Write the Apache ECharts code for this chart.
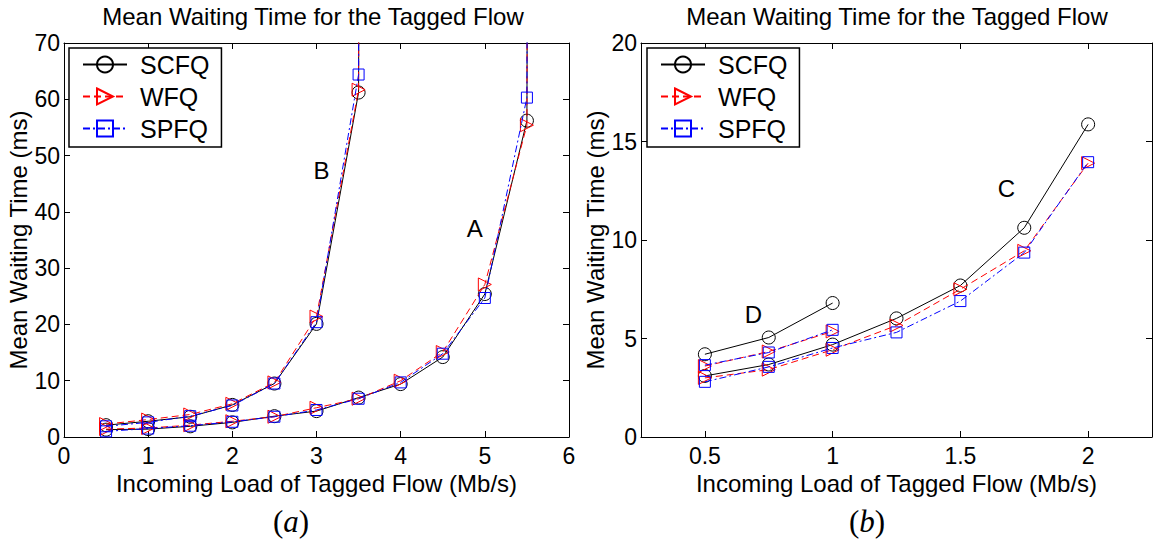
<!DOCTYPE html>
<html>
<head>
<meta charset="utf-8">
<style>
  html, body { margin: 0; padding: 0; background: #fff; }
  #chart { width: 1156px; height: 544px; }
</style>
<script src="https://cdn.jsdelivr.net/npm/echarts@6/dist/echarts.min.js"></script>
</head>
<body>
<div id="chart"></div>
<script>
// ---------- Data ----------
const seriesNames = ['SCFQ', 'WFQ', 'SPFQ'];
const chartTitle = 'Mean Waiting Time for the Tagged Flow';
const xAxisName = 'Incoming Load of Tagged Flow (Mb/s)';
const yAxisName = 'Mean Waiting Time (ms)';

// Panel (a): curve A (x 0.5..5.5, explodes after 5.5), curve B (x 0.5..3.5, explodes after 3.5)
const xA = [0.5, 1, 1.5, 2, 2.5, 3, 3.5, 4, 4.5, 5, 5.5, 6];
const aSCFQ = [1.3, 1.4, 1.9, 2.6, 3.7, 4.6, 7.0, 9.4, 14.2, 25.4, 56.2, 3000];
const aWFQ  = [1.4, 1.6, 2.1, 2.8, 3.6, 5.2, 6.8, 10.0, 15.1, 27.1, 55.4, 3000];
const aSPFQ = [1.0, 1.5, 2.0, 2.7, 3.6, 4.8, 6.8, 9.7, 14.8, 24.7, 60.3, 3000];

const xB = [0.5, 1, 1.5, 2, 2.5, 3, 3.5, 4];
const bSCFQ = [2.1, 2.8, 3.6, 5.7, 9.5, 20.1, 61.2, 3000];
const bWFQ  = [2.3, 3.1, 4.0, 5.9, 9.7, 21.4, 61.7, 3000];
const bSPFQ = [1.9, 2.6, 3.7, 5.6, 9.5, 20.4, 64.4, 3000];

// Panel (b): curve C (x 0.5..2), curve D (x 0.5..1)
const xC = [0.5, 0.75, 1, 1.25, 1.5, 1.75, 2];
const cSCFQ = [3.1, 3.68, 4.69, 6.02, 7.69, 10.62, 15.87];
const cWFQ  = [3.0, 3.42, 4.43, 5.66, 7.50, 9.45, 13.90];
const cSPFQ = [2.8, 3.56, 4.52, 5.31, 6.90, 9.36, 13.95];

const xD = [0.5, 0.75, 1];
const dSCFQ = [4.2, 5.05, 6.8];
const dWFQ  = [3.6, 4.34, 5.36];
const dSPFQ = [3.65, 4.29, 5.44];

// Axis ticks
const xTicksA = [0, 1, 2, 3, 4, 5, 6];
const yTicksA = [0, 10, 20, 30, 40, 50, 60, 70];
const xTicksB = [0.5, 1, 1.5, 2];
const yTicksB = [0, 5, 10, 15, 20];

// Curve annotations [label, x, y]
const annotA = [['A', 4.88, 37.1], ['B', 3.06, 47.4]];
const annotB = [['C', 1.68, 12.6], ['D', 0.69, 6.24]];

// ---------- Styles ----------
const FONT = '"Liberation Sans", Arial, Helvetica, sans-serif';
const SERIF = '"Liberation Serif", "DejaVu Serif", serif';
const triPath = 'path://M0,0 L10,5 L0,10 Z';
const styles = {
  SCFQ: { color: '#000000', type: 'solid', symbol: 'circle', size: 13 },
  WFQ:  { color: '#ff0000', type: [7, 4], symbol: triPath, size: 13 },
  SPFQ: { color: '#0000ff', type: [7, 3, 2, 3], symbol: 'rect', size: 11 }
};

function zip(xs, ys) { return xs.map((x, i) => [x, ys[i]]); }

function mkSeries(name, xs, ys, gi) {
  const s = styles[name];
  return {
    type: 'line', name: name,
    xAxisIndex: gi * 2, yAxisIndex: gi * 2,
    data: zip(xs, ys),
    symbol: s.symbol, symbolSize: s.size,
    showAllSymbol: true, clip: true,
    lineStyle: { color: s.color, width: 1, type: s.type },
    itemStyle: { color: 'rgba(255,255,255,0)', borderColor: s.color, borderWidth: 1 },
    emphasis: { disabled: true },
    animation: false,
    z: name === 'SCFQ' ? 3 : (name === 'WFQ' ? 4 : 5)
  };
}

const grids = [
  { left: 64, top: 43, width: 505, height: 394 },
  { left: 641, top: 43, width: 511, height: 394 }
];

function mainX(gi, min, max, ticks, interval) {
  const ax = {
    type: 'value', gridIndex: gi, min: min, max: max, position: 'bottom',
    name: xAxisName, nameLocation: 'middle', nameGap: 25,
    nameTextStyle: { fontFamily: FONT, fontSize: 24, color: '#000' },
    axisLine: { show: true, onZero: false, lineStyle: { color: '#000', width: 1 } },
    axisTick: { show: true, inside: true, length: 6, lineStyle: { color: '#000' } },
    axisLabel: { show: true, fontFamily: FONT, fontSize: 23, color: '#000', margin: 7 },
    splitLine: { show: false }
  };
  if (interval) ax.interval = interval;
  else {
    ax.axisLabel.customValues = ticks;
    ax.axisTick.customValues = ticks;
  }
  return ax;
}
function topX(gi, min, max, ticks, interval) {
  const ax = {
    type: 'value', gridIndex: gi, min: min, max: max, position: 'top',
    axisLine: { show: true, onZero: false, lineStyle: { color: '#000', width: 1 } },
    axisTick: { show: true, inside: true, length: 6, lineStyle: { color: '#000' } },
    axisLabel: { show: false },
    splitLine: { show: false }
  };
  if (interval) ax.interval = interval;
  else { ax.axisTick.customValues = ticks; ax.axisLabel.customValues = ticks; }
  return ax;
}
function mainY(gi, min, max, interval) {
  return {
    type: 'value', gridIndex: gi, min: min, max: max, interval: interval, position: 'left',
    name: yAxisName, nameLocation: 'middle', nameGap: 34,
    nameTextStyle: { fontFamily: FONT, fontSize: 24, color: '#000' },
    axisLine: { show: true, onZero: false, lineStyle: { color: '#000', width: 1 } },
    axisTick: { show: true, inside: true, length: 6, lineStyle: { color: '#000' } },
    axisLabel: { show: true, fontFamily: FONT, fontSize: 23, color: '#000', margin: 4 },
    splitLine: { show: false }
  };
}
function rightY(gi, min, max, interval) {
  return {
    type: 'value', gridIndex: gi, min: min, max: max, interval: interval, position: 'right',
    axisLine: { show: true, onZero: false, lineStyle: { color: '#000', width: 1 } },
    axisTick: { show: true, inside: true, length: 6, lineStyle: { color: '#000' } },
    axisLabel: { show: false },
    splitLine: { show: false }
  };
}

const series = [
  mkSeries('SCFQ', xA, aSCFQ, 0), mkSeries('WFQ', xA, aWFQ, 0), mkSeries('SPFQ', xA, aSPFQ, 0),
  mkSeries('SCFQ', xB, bSCFQ, 0), mkSeries('WFQ', xB, bWFQ, 0), mkSeries('SPFQ', xB, bSPFQ, 0),
  mkSeries('SCFQ', xC, cSCFQ, 1), mkSeries('WFQ', xC, cWFQ, 1), mkSeries('SPFQ', xC, cSPFQ, 1),
  mkSeries('SCFQ', xD, dSCFQ, 1), mkSeries('WFQ', xD, dWFQ, 1), mkSeries('SPFQ', xD, dSPFQ, 1)
];

function mkLegend(left) {
  return {
    orient: 'vertical', left: left, top: 48,
    data: seriesNames,
    backgroundColor: '#fff',
    borderColor: '#000', borderWidth: 1.5, borderRadius: 0,
    padding: [4, 12, 6, 13],
    itemWidth: 44, itemHeight: 20, itemGap: 7,
    textStyle: { fontFamily: FONT, fontSize: 25, color: '#000', lineHeight: 22, padding: [0, 0, 0, 8] },
    selectedMode: false
  };
}

const option = {
  animation: false,
  backgroundColor: '#fff',
  grid: grids,
  xAxis: [
    mainX(0, 0, 6, xTicksA, 1), topX(0, 0, 6, xTicksA, 1),
    mainX(1, 0.25, 2.25, xTicksB, null), topX(1, 0.25, 2.25, xTicksB, null)
  ],
  yAxis: [
    mainY(0, 0, 70, 10), rightY(0, 0, 70, 10),
    mainY(1, 0, 20, 5), rightY(1, 0, 20, 5)
  ],
  legend: [mkLegend(69), mkLegend(647)],
  series: series
};

const chart = echarts.init(document.getElementById('chart'), null, { renderer: 'svg' });
chart.setOption(option);

// Text annotations placed via data coordinates
function annot(list, gi) {
  return list.map(([t, x, y]) => {
    const p = chart.convertToPixel({ gridIndex: gi }, [x, y]);
    return { type: 'text', x: p[0], y: p[1], style: { text: t, fontFamily: FONT, fontSize: 24, fill: '#000', align: 'center', verticalAlign: 'middle' } };
  });
}
function caption(x, letter) {
  return { type: 'text', x: x, y: 521, style: { text: '{p|(}{i|' + letter + '}{p|)}',
    rich: { p: { fontFamily: SERIF, fontSize: 31, fill: '#000' }, i: { fontFamily: SERIF, fontSize: 31, fontStyle: 'italic', fill: '#000' } },
    align: 'center', verticalAlign: 'middle' } };
}
const graphics = [
  { type: 'text', x: 313, y: 16, style: { text: chartTitle, fontFamily: FONT, fontSize: 24, fill: '#000', align: 'center', verticalAlign: 'middle' } },
  { type: 'text', x: 897, y: 16, style: { text: chartTitle, fontFamily: FONT, fontSize: 24, fill: '#000', align: 'center', verticalAlign: 'middle' } },
  caption(291, 'a'), caption(867, 'b')
].concat(annot(annotA, 0), annot(annotB, 1));
chart.setOption({ graphic: graphics });
</script>
</body>
</html>
